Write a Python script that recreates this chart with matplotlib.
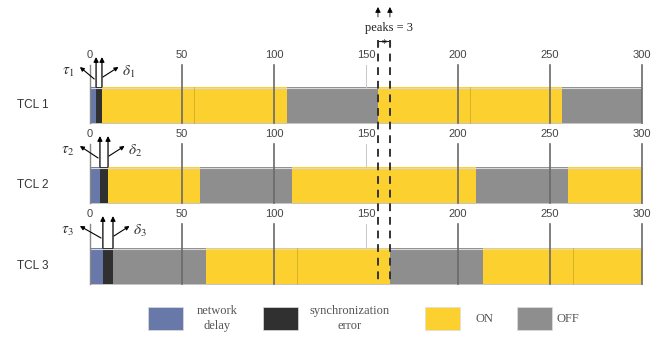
import matplotlib
matplotlib.use("Agg")
import matplotlib.pyplot as plt
from matplotlib.patches import Rectangle

plt.rcParams['mathtext.fontset'] = 'stix'

# ---- data (time units) ----
tcl_names = ['TCL 1', 'TCL 2', 'TCL 3']
delay_end = [3.3, 5.4, 7.0]          # network delay tau_i
sync_end = [6.5, 9.8, 12.5]          # synchronization error delta_i
state_edges = [
    [6.5, 107, 156.5, 256.5, 300],
    [9.8, 60, 110, 210, 260, 300],
    [12.5, 63, 163, 213.5, 300],
]
first_state = ['ON', 'ON', 'OFF']
mid_marks = [[56.5, 206.5], [], [112.5, 262.5]]
tick_values = [0, 50, 100, 150, 200, 250, 300]
peak_window = [156.5, 163]
peaks_count = 3

colors = {'delay': '#6878a8', 'sync': '#303030', 'ON': '#fcd12f', 'OFF': '#8e8e8e'}
legend_items = [('delay', 'network\ndelay'), ('sync', 'synchronization\nerror'),
                ('ON', 'ON'), ('OFF', 'OFF')]

# ---- layout (pixel rows) ----
bar_top = [87, 167, 248]
bar_h = 36
label_y = [55, 134, 214]
px_per_unit = 552 / 300.0
x0_px = 90

fig = plt.figure(figsize=(6.62, 3.37), dpi=100)
ax = fig.add_axes([0, 0, 1, 1])
ax.set_xlim(-x0_px / px_per_unit, (662 - x0_px) / px_per_unit)
ax.set_ylim(337, 0)
ax.axis('off')

u = 1 / px_per_unit  # one pixel in time units

for i in range(3):
    top = bar_top[i]
    # state segments
    ax.broken_barh([(0, delay_end[i])], (top, bar_h), facecolor=colors['delay'])
    ax.broken_barh([(delay_end[i], sync_end[i] - delay_end[i])], (top, bar_h),
                   facecolor=colors['sync'])
    state = first_state[i]
    edges = state_edges[i]
    for a, b in zip(edges[:-1], edges[1:]):
        ax.broken_barh([(a, b - a)], (top, bar_h), facecolor=colors[state])
        state = 'OFF' if state == 'ON' else 'ON'
    ax.plot([0, 300], [top + 0.5, top + 0.5], color='#d8d8d8', lw=0.8)
    ax.plot([0, 300], [top + bar_h, top + bar_h], color='#bbbbbb', lw=0.6)
    for m in mid_marks[i]:
        ax.plot([m, m], [top, top + bar_h], color='#b8952a', lw=0.6, alpha=0.6)

    # tick lines and labels
    for t in tick_values:
        if t == 150:
            ax.plot([t, t], [label_y[i] + 10, top], color='#c8c8c8', lw=0.7, zorder=3)
        else:
            lc, lw = ('#888888', 1.0) if t == 0 else ('#6a6a6a', 1.2)
            ax.plot([t, t], [label_y[i] + 10, top + bar_h], color=lc, lw=lw, zorder=3)
        ax.text(t, label_y[i], str(t), ha='center', va='center', fontsize=8,
                color='#444444', family='Liberation Sans')

    ax.text(-31, top + bar_h / 2, tcl_names[i], ha='center', va='center',
            fontsize=8.5, color='#333333', family='Liberation Sans')

    # up arrows at delay / sync boundaries
    for xa in (delay_end[i], sync_end[i]):
        ax.annotate('', xy=(xa, label_y[i] + 2), xytext=(xa, top),
                    arrowprops=dict(arrowstyle='-|>', color='black', lw=0.9,
                                    mutation_scale=7, shrinkA=0, shrinkB=0))
    # tau and delta pointers
    ya = label_y[i] + 22
    ax.annotate('', xy=(-5.5, ya - 10), xytext=(delay_end[i] - 1, ya + 2),
                arrowprops=dict(arrowstyle='-|>', color='black', lw=0.8,
                                mutation_scale=6, shrinkA=0, shrinkB=0))
    ax.annotate('', xy=(sync_end[i] + 9, ya - 10), xytext=(sync_end[i] + 0.5, ya),
                arrowprops=dict(arrowstyle='-|>', color='black', lw=0.8,
                                mutation_scale=6, shrinkA=0, shrinkB=0))
    ax.text(-12, ya - 5, r'$\tau_{%d}$' % (i + 1), ha='center', va='center',
            fontsize=11, color='#333333')
    ax.text(sync_end[i] + 14.5, ya - 5, r'$\delta_{%d}$' % (i + 1), ha='center',
            va='center', fontsize=11, color='#333333')

# peak window
for xp in peak_window:
    ax.plot([xp, xp], [40, 285], color='#333333', lw=1.4, ls=(0, (4, 3)), zorder=4)
    ax.annotate('', xy=(xp, 7), xytext=(xp, 17),
                arrowprops=dict(arrowstyle='-|>', color='black', lw=0.6,
                                mutation_scale=8, shrinkA=0, shrinkB=0))
ax.text(sum(peak_window) / 2 + 2.5, 28, 'peaks = %d' % peaks_count, ha='center',
        va='center', fontsize=9, color='#222222', family='Liberation Serif')
ax.plot([peak_window[0], peak_window[0], peak_window[1], peak_window[1]],
        [46, 41, 41, 46], color='#222222', lw=0.8)
ax.text(sum(peak_window) / 2, 43.5, '*', ha='center', va='center', fontsize=7)

# legend
box_x = [148, 263, 425, 517]
text_x = [217, 350, 485, 568]
for (key, lab), bx, tx in zip(legend_items, box_x, text_x):
    ax.add_patch(Rectangle(((bx - x0_px) * u, 307), 35 * u, 23,
                           facecolor=colors[key], edgecolor='#dddddd', lw=0.5))
    ax.text((tx - x0_px) * u, 318.5, lab, ha='center', va='center', fontsize=9,
            color='#555555', family='Liberation Serif', linespacing=1.25)

fig.savefig('out.png', dpi=100)
